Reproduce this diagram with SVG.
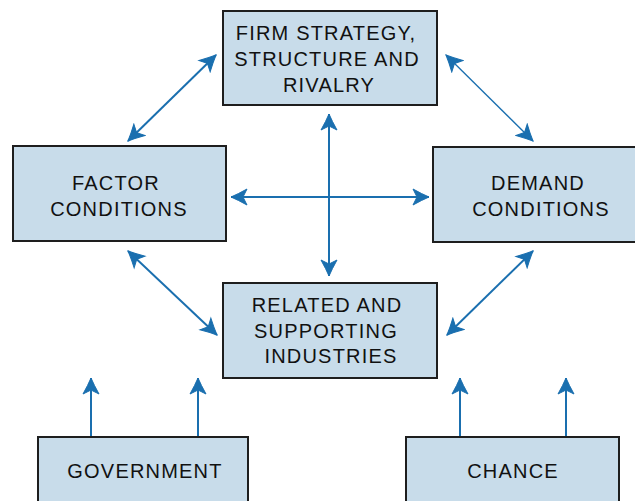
<svg xmlns="http://www.w3.org/2000/svg" width="635" height="501" viewBox="0 0 635 501">
<style>
.box{fill:#c8dcea;stroke:#1e1e1e;stroke-width:2}
.t{font-family:"Liberation Sans",Arial,sans-serif;font-size:20px;letter-spacing:1.2px;fill:#111;text-anchor:middle}
.c{fill:none;stroke:#1a6faf;stroke-width:2}
.thin{stroke-width:1.3}
</style>
<defs>
<marker id="ah" viewBox="-18 -9 19 18" refX="0" refY="0" markerWidth="19" markerHeight="18" markerUnits="userSpaceOnUse" orient="auto-start-reverse">
<path d="M0,0 Q-7,-3 -16,-8 L-12,0 L-16,8 Q-7,3 0,0 z" fill="#1a6faf" stroke="#1a6faf" stroke-width="1"/>
</marker>
</defs>
<g id="connectors">
<line class="c" x1="329" y1="114" x2="329" y2="276" marker-start="url(#ah)" marker-end="url(#ah)"/>
<line class="c" x1="231" y1="197" x2="429" y2="197" marker-start="url(#ah)" marker-end="url(#ah)"/>
<line class="c" x1="128" y1="141" x2="216" y2="55" marker-start="url(#ah)" marker-end="url(#ah)"/>
<line class="c thin" x1="446" y1="55" x2="533" y2="141" marker-start="url(#ah)" marker-end="url(#ah)"/>
<line class="c" x1="128" y1="251" x2="217" y2="335" marker-start="url(#ah)" marker-end="url(#ah)"/>
<line class="c" x1="533" y1="251" x2="447" y2="335" marker-start="url(#ah)" marker-end="url(#ah)"/>
<line class="c" x1="91" y1="437" x2="91" y2="378" marker-end="url(#ah)"/>
<line class="c" x1="198" y1="437" x2="198" y2="378" marker-end="url(#ah)"/>
<line class="c" x1="460" y1="437" x2="460" y2="378" marker-end="url(#ah)"/>
<line class="c" x1="566" y1="437" x2="566" y2="378" marker-end="url(#ah)"/>
</g>
<g id="firm">
<rect class="box" x="223" y="11" width="214" height="94"/>
<text class="t" x="326" y="40">FIRM STRATEGY,</text>
<text class="t" x="327" y="66">STRUCTURE AND</text>
<text class="t" x="329" y="92">RIVALRY</text>
</g>
<g id="factor">
<rect class="box" x="13" y="146" width="213" height="95"/>
<text class="t" x="116" y="190">FACTOR</text>
<text class="t" x="119" y="216">CONDITIONS</text>
</g>
<g id="demand">
<rect class="box" x="433" y="147" width="213" height="95"/>
<text class="t" x="538" y="190">DEMAND</text>
<text class="t" x="541" y="216">CONDITIONS</text>
</g>
<g id="related">
<rect class="box" x="223" y="283" width="214" height="95"/>
<text class="t" x="327" y="312">RELATED AND</text>
<text class="t" x="326" y="338">SUPPORTING</text>
<text class="t" x="331" y="363">INDUSTRIES</text>
</g>
<g id="government">
<rect class="box" x="38" y="437" width="210" height="70"/>
<text class="t" x="145" y="478">GOVERNMENT</text>
</g>
<g id="chance">
<rect class="box" x="406" y="437" width="213" height="70"/>
<text class="t" x="513" y="478">CHANCE</text>
</g>
</svg>
